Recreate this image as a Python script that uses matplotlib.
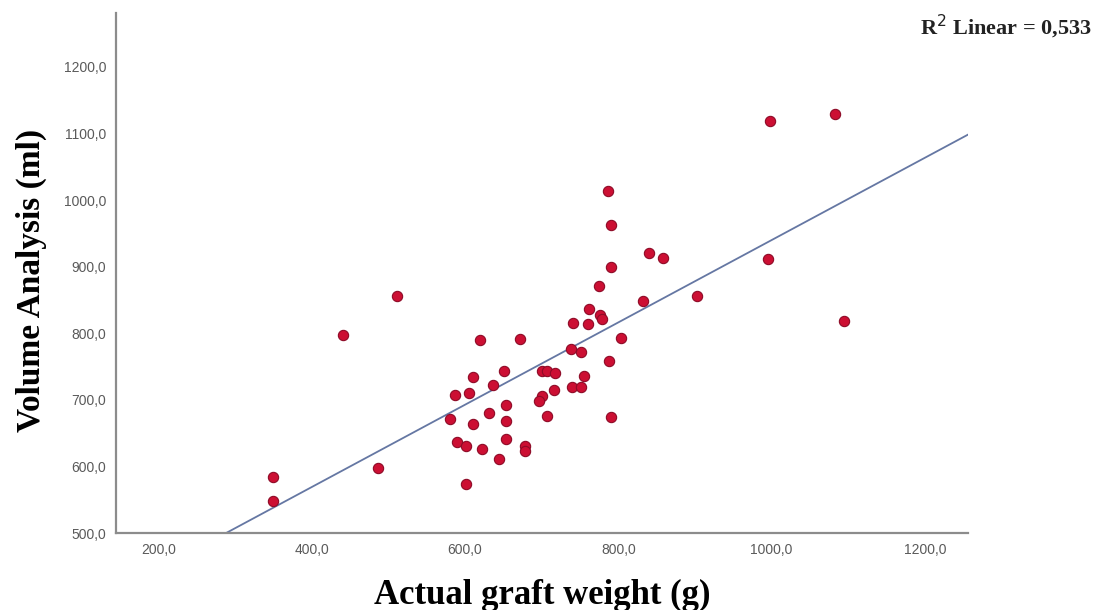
import numpy as np
import matplotlib
matplotlib.use("Agg")
import matplotlib.pyplot as plt
from matplotlib.ticker import FuncFormatter

# graft weight (g) vs. volume analysis (ml)
weight = [512, 787, 791, 840, 858, 791, 775, 832, 903, 762,
          776, 779, 741, 761, 441, 620, 672, 804, 738, 751,
          788, 611, 651, 701, 707, 718, 755, 637, 587, 605,
          740, 751, 716, 701, 696, 653, 631, 581, 707, 791,
          611, 653, 589, 602, 622, 653, 678, 678, 645, 487,
          601, 350, 350, 998, 1082, 995, 1094]
volume = [856, 1014, 963, 921, 913, 900, 871, 848, 856, 836,
          827, 822, 816, 814, 798, 790, 791, 793, 776, 772,
          758, 735, 744, 743, 744, 741, 736, 723, 708, 711,
          719, 719, 715, 706, 698, 693, 680, 671, 675, 674,
          664, 668, 636, 630, 626, 641, 631, 623, 611, 597,
          574, 584, 548, 1119, 1129, 912, 819]
r2_text = "0,533"

xticks = [200, 400, 600, 800, 1000, 1200]
yticks = [500, 600, 700, 800, 900, 1000, 1100, 1200]
xlim = (145, 1256)
ylim = (500, 1281)

x = np.array(weight, dtype=float)
y = np.array(volume, dtype=float)
slope, intercept = np.polyfit(x, y, 1)

fig = plt.figure(figsize=(11.03, 6.10), dpi=100)
ax = fig.add_axes([0.1052, 0.1262, 0.7724, 0.8525])

# least-squares line over the whole x range
xl = np.array(xlim)
ax.plot(xl, slope * xl + intercept, color="#6577a3", lw=1.3, zorder=2)

ax.scatter(x, y, s=55, color="#cc0f33", edgecolors="#8e0b27",
           linewidths=0.8, zorder=3)

ax.set_xlim(*xlim)
ax.set_ylim(*ylim)
ax.set_xticks(xticks)
ax.set_yticks(yticks)
comma = FuncFormatter(lambda v, p: f"{v:.1f}".replace(".", ","))
ax.xaxis.set_major_formatter(comma)
ax.yaxis.set_major_formatter(comma)
ax.tick_params(length=0, labelsize=10, labelcolor="#5a5a5a", pad=7,
               labelfontfamily="Liberation Sans")

for side in ("top", "right"):
    ax.spines[side].set_visible(False)
for side in ("left", "bottom"):
    ax.spines[side].set_color("#8c8c8c")
    ax.spines[side].set_linewidth(1.6)

serif = {"family": "Liberation Serif", "weight": "bold"}
ax.set_xlabel("Actual graft weight (g)", fontdict=serif, fontsize=25)
ax.set_ylabel("Volume Analysis (ml)", fontdict=serif, fontsize=24)
ax.xaxis.set_label_coords(0.5, -0.088)
ax.yaxis.set_label_coords(-0.081, 0.485)

fig.text(0.912, 0.955, "R$^{2}$ Linear = " + r2_text, ha="center",
         va="center", fontsize=16, fontfamily="Liberation Serif",
         fontweight="bold", color="#222222")

fig.savefig("out.png", dpi=100, facecolor="white")
